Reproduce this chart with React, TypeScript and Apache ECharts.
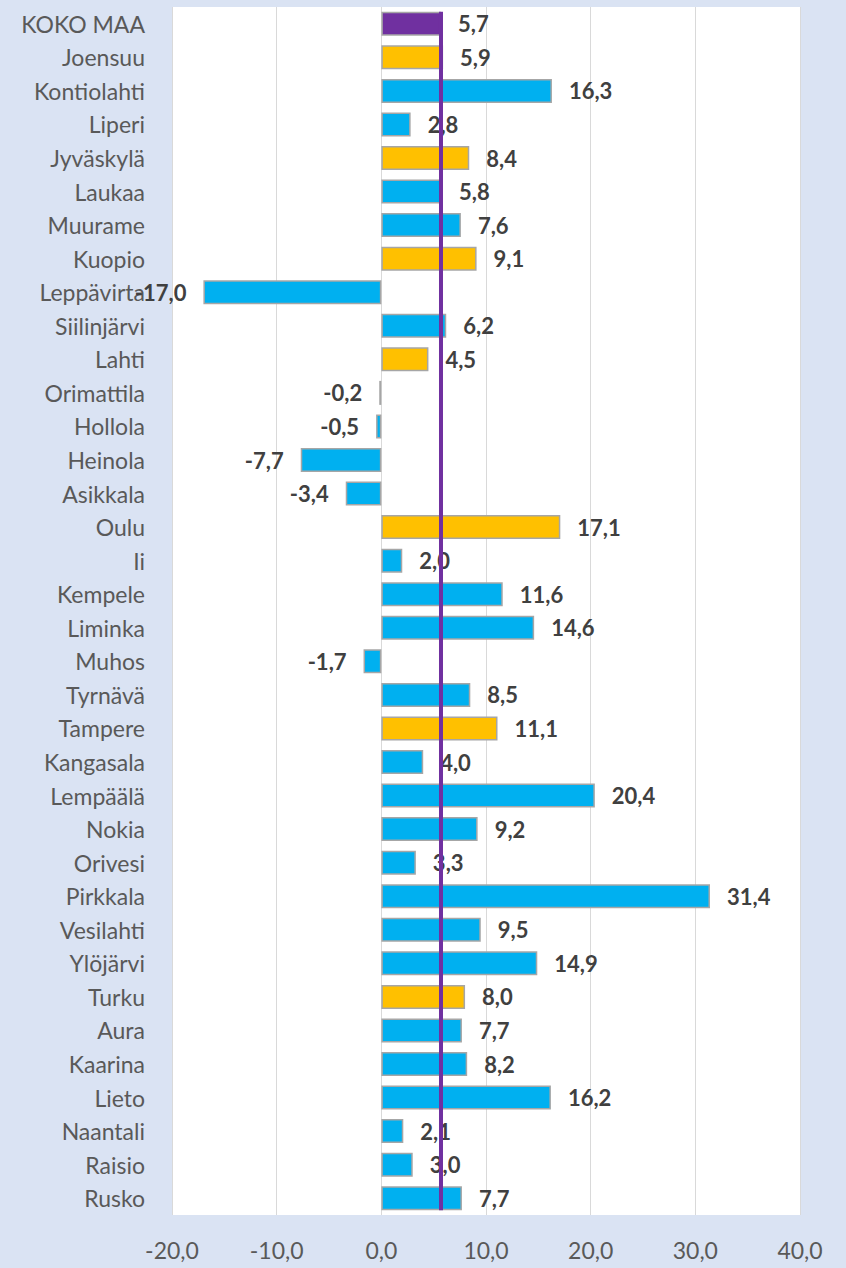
import React, { useEffect, useRef } from "react";
import * as echarts from "echarts";

const categories = [
  "KOKO MAA", "Joensuu", "Kontiolahti", "Liperi", "Jyväskylä", "Laukaa", "Muurame",
  "Kuopio", "Leppävirta", "Siilinjärvi", "Lahti", "Orimattila", "Hollola", "Heinola",
  "Asikkala", "Oulu", "Ii", "Kempele", "Liminka", "Muhos", "Tyrnävä", "Tampere",
  "Kangasala", "Lempäälä", "Nokia", "Orivesi", "Pirkkala", "Vesilahti", "Ylöjärvi",
  "Turku", "Aura", "Kaarina", "Lieto", "Naantali", "Raisio", "Rusko",
];

const values = [
  5.7, 5.9, 16.3, 2.8, 8.4, 5.8, 7.6,
  9.1, -17.0, 6.2, 4.5, -0.2, -0.5, -7.7,
  -3.4, 17.1, 2.0, 11.6, 14.6, -1.7, 8.5, 11.1,
  4.0, 20.4, 9.2, 3.3, 31.4, 9.5, 14.9,
  8.0, 7.7, 8.2, 16.2, 2.1, 3.0, 7.7,
];

const nationalCategory = "KOKO MAA";
const centralCities = ["Joensuu", "Jyväskylä", "Kuopio", "Lahti", "Oulu", "Tampere", "Turku"];

const xMin = -20;
const xMax = 40;
const xInterval = 10;

// vertical extent of the national-average line on a hidden 0..1 axis
const avgLineSpan = [0.004, 0.996];

const fmt = (v: number) => v.toFixed(1).replace(".", ",");

export default function App() {
  const ref = useRef<HTMLDivElement>(null);

  useEffect(() => {
    if (!ref.current) return;
    const chart = echarts.init(ref.current, null, { renderer: "svg" });
    const nationalValue = values[categories.indexOf(nationalCategory)];

    const barData = values.map((v, i) => {
      const name = categories[i];
      const color =
        name === nationalCategory ? "#7030a0" : centralCities.includes(name) ? "#ffc000" : "#00b0f0";
      return {
        value: v,
        itemStyle: { color },
        label: { position: v < 0 ? "left" : "right" },
      };
    });

    chart.setOption({
      animation: false,
      backgroundColor: "#dae3f3",
      textStyle: { fontFamily: "Lato" },
      grid: {
        left: 172,
        right: 46,
        top: 7,
        bottom: 53,
        show: true,
        backgroundColor: "#ffffff",
        borderWidth: 0,
      },
      xAxis: {
        type: "value",
        min: xMin,
        max: xMax,
        interval: xInterval,
        axisLine: { show: false, onZero: false },
        axisTick: { show: false },
        splitLine: { show: true, lineStyle: { color: "#d9d9d9", width: 1 } },
        axisLabel: {
          formatter: (v: number) => fmt(v),
          color: "#595959",
          fontSize: 23,
          fontFamily: "Lato",
          margin: 23,
        },
      },
      yAxis: [
        {
          type: "category",
          data: categories,
          inverse: true,
          axisLine: { show: false, onZero: false },
          axisTick: { show: false },
          splitLine: { show: false },
          axisLabel: {
            color: "#595959",
            fontSize: 23,
            fontFamily: "Lato",
            margin: 27,
          },
        },
        {
          type: "value",
          min: 0,
          max: 1,
          inverse: true,
          show: false,
          splitLine: { show: false },
        },
      ],
      series: [
        {
          type: "bar",
          data: barData,
          barWidth: 24,
          itemStyle: { borderColor: "#a6a6a6", borderWidth: 1.5 },
          label: {
            show: true,
            distance: 17,
            formatter: (p: any) => fmt(p.value),
            color: "#404040",
            fontWeight: "bold",
            fontSize: 22,
            fontFamily: "Lato",
          },
          z: 2,
        },
        {
          type: "line",
          yAxisIndex: 1,
          data: avgLineSpan.map((y) => [nationalValue, y]),
          symbol: "none",
          lineStyle: { color: "#7030a0", width: 4 },
          z: 10,
        },
      ],
    });

    return () => chart.dispose();
  }, []);

  return (
    <div
      ref={ref}
      style={{ position: "fixed", left: 0, top: 0, width: 846, height: 1268 }}
    />
  );
}
